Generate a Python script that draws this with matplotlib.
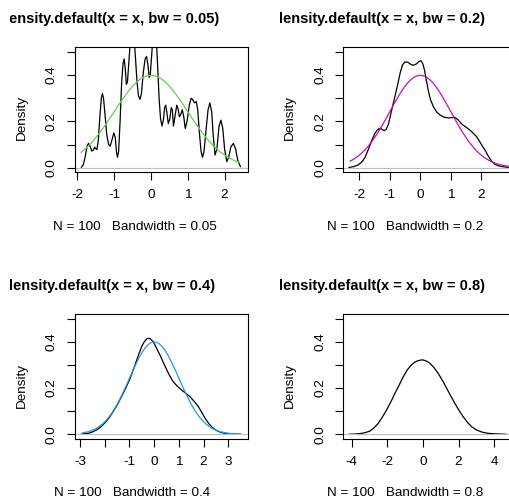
import matplotlib
matplotlib.use("Agg")
import matplotlib.pyplot as plt
from matplotlib.transforms import Bbox, TransformedBbox

plt.rcParams["font.family"] = ["Liberation Sans", "DejaVu Sans"]

# --- data ----------------------------------------------------------------
bandwidths = [0.05, 0.2, 0.4, 0.8]
n_obs = 100

# density estimate, bw = 0.05
d05_x = [-1.89, -1.84, -1.79, -1.74, -1.70, -1.66, -1.61, -1.57, -1.53, -1.50,
         -1.47, -1.43, -1.39, -1.35, -1.32, -1.29, -1.25, -1.20, -1.15, -1.11,
         -1.06, -1.01, -0.97, -0.94, -0.91, -0.88, -0.84, -0.80, -0.76, -0.73,
         -0.70, -0.67, -0.64, -0.60, -0.56, -0.51, -0.46, -0.42, -0.38, -0.34,
         -0.30, -0.26, -0.21, -0.16, -0.12, -0.08, -0.05, -0.02, 0.02, 0.06,
         0.10, 0.14, 0.18, 0.22, 0.26, 0.30, 0.34, 0.37, 0.40, 0.43,
         0.47, 0.51, 0.55, 0.58, 0.61, 0.65, 0.70, 0.74, 0.77, 0.81,
         0.85, 0.89, 0.93, 0.98, 1.04, 1.09, 1.13, 1.18, 1.23, 1.27,
         1.31, 1.36, 1.40, 1.44, 1.50, 1.55, 1.60, 1.65, 1.69, 1.74,
         1.79, 1.85, 1.90, 1.95, 2.00, 2.06, 2.11, 2.17, 2.24, 2.30,
         2.36, 2.43]
d05_y = [0.002, 0.012, 0.045, 0.090, 0.105, 0.095, 0.072, 0.075, 0.088, 0.082,
         0.078, 0.120, 0.220, 0.300, 0.320, 0.300, 0.230, 0.140, 0.100, 0.093,
         0.120, 0.150, 0.130, 0.070, 0.045, 0.070, 0.200, 0.360, 0.450, 0.470,
         0.430, 0.360, 0.370, 0.460, 0.550, 0.600, 0.560, 0.470, 0.370, 0.310,
         0.295, 0.320, 0.410, 0.470, 0.480, 0.440, 0.390, 0.400, 0.490, 0.580,
         0.610, 0.570, 0.440, 0.300, 0.210, 0.180, 0.210, 0.260, 0.270, 0.240,
         0.190, 0.210, 0.260, 0.250, 0.180, 0.220, 0.270, 0.250, 0.220, 0.230,
         0.250, 0.220, 0.170, 0.200, 0.270, 0.300, 0.295, 0.280, 0.285, 0.250,
         0.160, 0.070, 0.045, 0.070, 0.170, 0.250, 0.280, 0.240, 0.140, 0.055,
         0.080, 0.180, 0.205, 0.170, 0.080, 0.026, 0.045, 0.090, 0.105, 0.080,
         0.030, 0.005]

# density estimate, bw = 0.2
d2_x = [-2.34, -2.20, -2.03, -1.90, -1.81, -1.70, -1.59, -1.50, -1.43, -1.36,
        -1.30, -1.24, -1.18, -1.12, -1.05, -0.98, -0.90, -0.82, -0.74, -0.66,
        -0.58, -0.50, -0.42, -0.33, -0.23, -0.13, -0.05, 0.02, 0.08, 0.14,
        0.20, 0.26, 0.33, 0.43, 0.54, 0.65, 0.78, 0.92, 1.03, 1.14,
        1.25, 1.36, 1.50, 1.63, 1.75, 1.85, 1.95, 2.05, 2.12, 2.23,
        2.34, 2.45, 2.56, 2.67, 2.78, 2.88]
d2_y = [0.001, 0.004, 0.012, 0.027, 0.045, 0.080, 0.118, 0.145, 0.160, 0.168,
        0.170, 0.164, 0.160, 0.166, 0.185, 0.225, 0.270, 0.315, 0.360, 0.410,
        0.445, 0.457, 0.456, 0.448, 0.442, 0.448, 0.458, 0.462, 0.450, 0.420,
        0.375, 0.335, 0.295, 0.263, 0.240, 0.227, 0.218, 0.215, 0.216, 0.217,
        0.205, 0.188, 0.175, 0.162, 0.147, 0.133, 0.112, 0.090, 0.076, 0.050,
        0.027, 0.014, 0.008, 0.005, 0.003, 0.001]

# density estimate, bw = 0.4
d4_x = [-2.94, -2.67, -2.50, -2.33, -2.16, -1.99, -1.82, -1.66, -1.49, -1.32,
        -1.15, -0.98, -0.84, -0.71, -0.60, -0.51, -0.40, -0.30, -0.24, -0.15,
        -0.04, 0.08, 0.23, 0.37, 0.51, 0.64, 0.77, 0.94, 1.11, 1.28,
        1.45, 1.62, 1.79, 1.93, 2.06, 2.22, 2.39, 2.56, 2.73, 2.95,
        3.20, 3.48]
d4_y = [0.001, 0.004, 0.010, 0.019, 0.032, 0.050, 0.072, 0.098, 0.128, 0.163,
        0.200, 0.240, 0.280, 0.320, 0.353, 0.378, 0.400, 0.412, 0.415, 0.412,
        0.400, 0.375, 0.343, 0.310, 0.278, 0.250, 0.227, 0.207, 0.191, 0.177,
        0.162, 0.142, 0.119, 0.094, 0.069, 0.045, 0.026, 0.014, 0.007, 0.003,
        0.001, 0.000]

# density estimate, bw = 0.8
d8_x = [-4.14, -3.80, -3.44, -3.20, -2.97, -2.74, -2.51, -2.28, -2.04, -1.80,
        -1.57, -1.33, -1.10, -0.87, -0.64, -0.45, -0.26, -0.10, 0.02, 0.20,
        0.39, 0.62, 0.86, 1.10, 1.33, 1.56, 1.79, 2.02, 2.26, 2.50,
        2.73, 3.00, 3.29, 3.65, 4.04, 4.40, 4.68]
d8_y = [0.000, 0.001, 0.004, 0.008, 0.014, 0.028, 0.047, 0.074, 0.105, 0.140,
        0.177, 0.213, 0.249, 0.279, 0.300, 0.312, 0.318, 0.321, 0.321, 0.316,
        0.307, 0.288, 0.263, 0.232, 0.199, 0.166, 0.134, 0.104, 0.076, 0.052,
        0.033, 0.019, 0.010, 0.004, 0.002, 0.001, 0.000]

# normal reference curve, x from -2.9 to 3.5 in steps of 0.1
norm_x = [round(-2.9 + 0.1 * i, 1) for i in range(65)]
norm_y = [0.0060, 0.0079, 0.0104, 0.0136, 0.0175, 0.0224, 0.0283, 0.0355, 0.0440, 0.0540,
          0.0656, 0.0790, 0.0940, 0.1109, 0.1295, 0.1497, 0.1714, 0.1942, 0.2179, 0.2420,
          0.2661, 0.2897, 0.3123, 0.3332, 0.3521, 0.3683, 0.3814, 0.3910, 0.3970, 0.3989,
          0.3970, 0.3910, 0.3814, 0.3683, 0.3521, 0.3332, 0.3123, 0.2897, 0.2661, 0.2420,
          0.2179, 0.1942, 0.1714, 0.1497, 0.1295, 0.1109, 0.0940, 0.0790, 0.0656, 0.0540,
          0.0440, 0.0355, 0.0283, 0.0224, 0.0175, 0.0136, 0.0104, 0.0079, 0.0060, 0.0044,
          0.0033, 0.0024, 0.0017, 0.0012, 0.0009]

curves_x = [d05_x, d2_x, d4_x, d8_x]
curves_y = [d05_y, d2_y, d4_y, d8_y]
norm_colors = ["#61D04F", "#CD0BBC", "#2297E6", None]

xticks = [[-2, -1, 0, 1, 2], [-2, -1, 0, 1, 2, 3],
          [-3, -2, -1, 0, 1, 2, 3], [-4, -2, 0, 2, 4]]
xticklabels = [["-2", "-1", "0", "1", "2"], ["-2", "-1", "0", "1", "2", "3"],
               ["-3", "", "-1", "0", "1", "2", "3"], ["-4", "-2", "0", "2", "4"]]
yticks = [0.0, 0.1, 0.2, 0.3, 0.4, 0.5]
yticklabels = ["0.0", "", "0.2", "", "0.4", ""]

# --- layout (pixels) ------------------------------------------------------
W, H = 509, 500
fig = plt.figure(figsize=(W / 100, H / 100), dpi=100)

box_w, box_h = 172.5, 125.0
col_left = [75.0, 343.3]
row_top = [47.3, 313.9]
xlims = [(-2.065, 2.622), (-2.525, 3.131), (-3.206, 3.777), (-4.470, 5.216)]
title_cx = [109.5, 379.5]
clip_x = [10, 280]
sub_cx = [[135, 405], [132, 405]]
ylab_x = [22, 290]
title_base = [23, 290]
sub_y = [227, 493]
ylab_y = [118, 385]

FS = 9.7
TFS = 10.5


def fig_xy(px, py):
    return px / W, 1 - py / H


for i, bw in enumerate(bandwidths):
    r, c = divmod(i, 2)
    left, top = col_left[c], row_top[r]
    ax = fig.add_axes([left / W, 1 - (top + box_h) / H, box_w / W, box_h / H])

    ax.plot(curves_x[i], curves_y[i], color="black", lw=0.9)
    if norm_colors[i]:
        lo, hi = curves_x[i][0] - 0.05, curves_x[i][-1] + 0.05
        nx = [x for x in norm_x if lo <= x <= hi]
        ny = [y for x, y in zip(norm_x, norm_y) if lo <= x <= hi]
        ax.plot(nx, ny, color=norm_colors[i], lw=0.9)
    ax.axhline(0, color="#BEBEBE", lw=0.8)

    ax.set_xlim(*xlims[i])
    ax.set_ylim(-0.02, 0.52)
    ax.set_xticks(xticks[i])
    ax.set_xticklabels(xticklabels[i])
    ax.set_yticks(yticks)
    ax.set_yticklabels(yticklabels)
    ax.tick_params(direction="out", length=5.8, width=0.8, labelsize=FS,
                   pad=6.5, colors="black")
    for lab in ax.get_yticklabels():
        lab.set_rotation(90)
        lab.set_va("center")
    for sp in ax.spines.values():
        sp.set_linewidth(0.8)
        sp.set_color("black")

    # title, clipped on the left like the figure region in the reference
    tx, ty = fig_xy(title_cx[c], title_base[r])
    t = fig.text(tx, ty, f"density.default(x = x, bw = {bw})", ha="center",
                 va="baseline", fontsize=TFS, fontweight="bold")
    t.set_clip_box(TransformedBbox(Bbox([[clip_x[c] / W, 0], [1, 1]]),
                                   fig.transFigure))
    t.set_clip_on(True)

    sx, sy = fig_xy(sub_cx[r][c], sub_y[r])
    fig.text(sx, sy, f"N = {n_obs}   Bandwidth = {bw}", ha="center",
             va="center", fontsize=FS)

    lx, ly = fig_xy(ylab_x[c], ylab_y[r])
    fig.text(lx, ly, "Density", rotation=90, ha="center", va="center",
             fontsize=FS)

fig.savefig("out.png", dpi=100)
